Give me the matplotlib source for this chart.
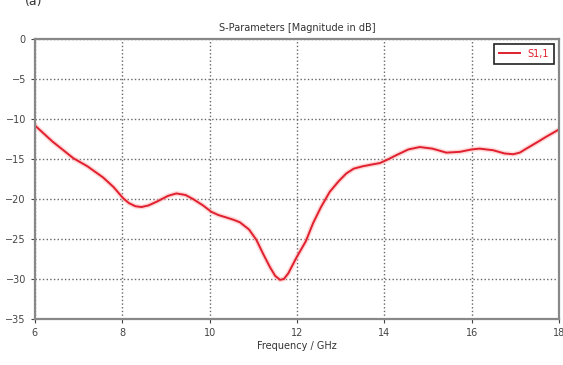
import matplotlib.pyplot as plt

# S1,1
freq = [6.0, 6.4, 6.88, 7.2, 7.56, 7.8, 8.02, 8.15, 8.3, 8.44, 8.6, 8.8, 9.05, 9.24,
        9.45, 9.62, 9.85, 10.04, 10.2, 10.38, 10.55, 10.69, 10.9, 11.07, 11.22,
        11.38, 11.5, 11.61, 11.7, 11.8, 11.99, 12.2, 12.37, 12.55, 12.75, 12.95,
        13.13, 13.3, 13.51, 13.7, 13.9, 14.1, 14.28, 14.55, 14.81, 15.1, 15.42,
        15.73, 16.0, 16.18, 16.49, 16.75, 16.95, 17.1, 17.25, 17.5, 17.71, 18.0]
s11 = [-10.8, -12.8, -14.9, -15.9, -17.3, -18.5, -19.9, -20.5, -20.9, -21.0, -20.8,
       -20.3, -19.6, -19.3, -19.5, -20.0, -20.8, -21.6, -22.0, -22.3, -22.6, -22.9,
       -23.8, -25.1, -26.8, -28.5, -29.6, -30.1, -30.0, -29.3, -27.3, -25.3, -23.0,
       -21.0, -19.1, -17.8, -16.8, -16.2, -15.9, -15.7, -15.5, -15.0, -14.5, -13.8,
       -13.5, -13.7, -14.2, -14.1, -13.8, -13.7, -13.9, -14.3, -14.4, -14.2, -13.7,
       -12.9, -12.2, -11.3]

xticks = [6, 8, 10, 12, 14, 16, 18]
yticks = [0, -5, -10, -15, -20, -25, -30, -35]

fig = plt.figure(figsize=(5.63, 3.65), dpi=100)
ax = fig.add_axes([0.062, 0.126, 0.931, 0.767])

ax.plot(freq, s11, color='#ffb0b0', lw=3.5, alpha=0.5, solid_joinstyle='round')
ax.plot(freq, s11, color='#e0202e', lw=1.4, label='S1,1', solid_joinstyle='round')

ax.set_xlim(6, 18)
ax.set_ylim(-35, 0)
ax.set_xticks(xticks)
ax.set_yticks(yticks)
ax.tick_params(labelsize=7, colors='#444444', length=3, width=0.8)
ax.grid(True, color='#666666', linestyle=':', linewidth=1.0)
for sp in ax.spines.values():
    sp.set_color('#888888')
    sp.set_linewidth(1.6)

ax.set_title('S-Parameters [Magnitude in dB]', fontsize=7, color='#333333', pad=6)
ax.set_xlabel('Frequency / GHz', fontsize=7, color='#333333', labelpad=2)

leg = ax.legend(loc='upper right', fontsize=7, handlelength=2.2, fancybox=False,
                borderpad=0.5, framealpha=1)
leg.get_frame().set_edgecolor('#222222')
leg.get_frame().set_linewidth(1.2)
for t in leg.get_texts():
    t.set_color('#e0202e')

fig.text(0.045, 0.995, '(a)', fontsize=9, va='center', color='#333333')

fig.savefig('out.png', dpi=100)
